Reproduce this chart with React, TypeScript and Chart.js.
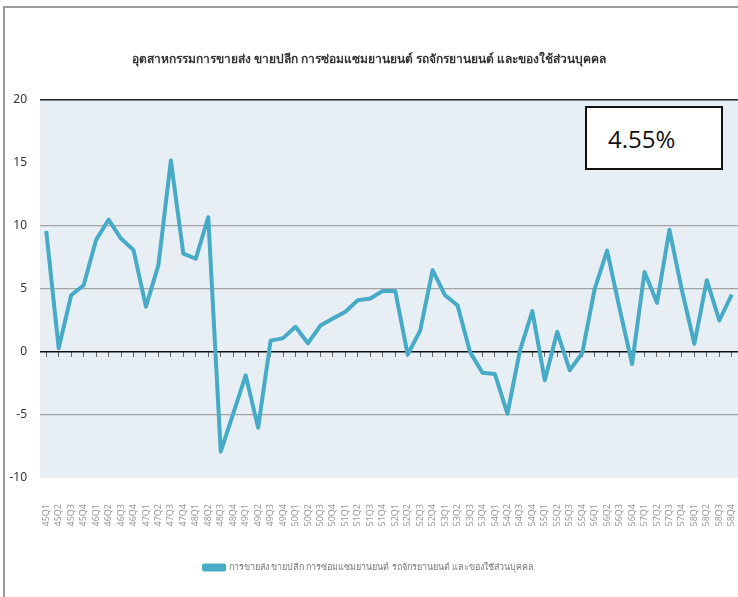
import { useEffect, useRef } from 'react';
import { Chart, registerables } from 'chart.js';

Chart.register(...registerables);

const TITLE = 'อุตสาหกรรมการขายส่ง ขายปลีก การซ่อมแซมยานยนต์ รถจักรยานยนต์ และของใช้ส่วนบุคคล';
const SERIES_NAME = 'การขายส่ง ขายปลีก การซ่อมแซมยานยนต์ รถจักรยานยนต์ และของใช้ส่วนบุคคล';
const LATEST_NOTE = '4.55%';

const quarters = [
  '45Q1', '45Q2', '45Q3', '45Q4', '46Q1', '46Q2', '46Q3', '46Q4',
  '47Q1', '47Q2', '47Q3', '47Q4', '48Q1', '48Q2', '48Q3', '48Q4',
  '49Q1', '49Q2', '49Q3', '49Q4', '50Q1', '50Q2', '50Q3', '50Q4',
  '51Q1', '51Q2', '51Q3', '51Q4', '52Q1', '52Q2', '52Q3', '52Q4',
  '53Q1', '53Q2', '53Q3', '53Q4', '54Q1', '54Q2', '54Q3', '54Q4',
  '55Q1', '55Q2', '55Q3', '55Q4', '56Q1', '56Q2', '56Q3', '56Q4',
  '57Q1', '57Q2', '57Q3', '57Q4', '58Q1', '58Q2', '58Q3', '58Q4',
];

const growth = [
  9.6, 0.3, 4.5, 5.3, 8.9, 10.5, 9.0, 8.1,
  3.6, 6.9, 15.2, 7.8, 7.4, 10.7, -7.9, -4.9,
  -1.85, -6.0, 0.9, 1.1, 2.0, 0.7, 2.1, 2.65,
  3.2, 4.1, 4.25, 4.85, 4.85, -0.2, 1.7, 6.5,
  4.5, 3.7, 0.0, -1.65, -1.75, -4.9, 0.1, 3.25,
  -2.25, 1.6, -1.45, -0.1, 5.0, 8.05, 3.45, -0.95,
  6.35, 3.9, 9.7, 4.9, 0.65, 5.7, 2.5, 4.55,
];

const Y_MIN = -10;
const Y_MAX = 20;
const Y_STEP = 5;

const LINE_COLOR = '#47aac6';
const FONT = "'Liberation Sans Narrow', 'Noto Sans', 'DejaVu Sans Condensed', sans-serif";

const plotBg = {
  id: 'plotBg',
  beforeDraw(chart: any) {
    const { ctx, chartArea: a } = chart;
    ctx.save();
    ctx.fillStyle = '#e8eff4';
    ctx.fillRect(a.left, a.top, a.right - a.left, a.bottom - a.top);
    ctx.restore();
  },
};

export default function App() {
  const ref = useRef<HTMLCanvasElement | null>(null);

  useEffect(() => {
    if (!ref.current) return;
    const chart = new Chart(ref.current, {
      type: 'line',
      data: {
        labels: quarters,
        datasets: [
          {
            label: SERIES_NAME,
            data: growth,
            borderColor: LINE_COLOR,
            backgroundColor: LINE_COLOR,
            borderWidth: 4,
            pointRadius: 0,
            tension: 0,
            borderJoinStyle: 'round',
            xAxisID: 'x',
            yAxisID: 'y',
          },
        ],
      },
      options: {
        responsive: false,
        animation: false,
        layout: { padding: { top: 0, left: 0, right: 0, bottom: 15 } },
        plugins: {
          title: {
            display: true,
            text: TITLE,
            color: '#333',
            font: { size: 12, weight: 'bold', family: FONT },
            padding: { top: 52, bottom: 33.6 },
          },
          legend: {
            position: 'bottom',
            labels: {
              boxWidth: 20,
              boxHeight: 4,
              padding: 8,
              color: '#777',
              font: { size: 9, family: FONT },
            },
          },
          tooltip: { enabled: false },
        },
        scales: {
          x: {
            type: 'category',
            offset: true,
            grid: { display: false, drawTicks: false },
            border: { display: false },
            ticks: {
              autoSkip: false,
              maxRotation: 90,
              minRotation: 90,
              padding: 26,
              color: '#999',
              font: { size: 9, family: FONT },
            },
            afterFit(s: any) {
              s.height = 77;
              s.paddingLeft = 0;
              s.paddingRight = 0;
            },
          },
          x2: {
            type: 'category',
            position: { y: 0 },
            offset: true,
            ticks: { display: false },
            grid: { drawOnChartArea: false, drawTicks: true, tickLength: 5, color: '#666', lineWidth: 1 },
            border: { display: false },
            afterFit(s: any) {
              s.paddingLeft = 0;
              s.paddingRight = 0;
            },
          },
          y: {
            min: Y_MIN,
            max: Y_MAX,
            ticks: {
              stepSize: Y_STEP,
              padding: 13,
              color: '#333',
              font: { size: 12, family: FONT },
            },
            grid: {
              drawTicks: false,
              color: (c: any) => {
                const v = c.tick ? c.tick.value : null;
                if (v === 20) return '#222';
                if (v === 0) return '#111';
                if (v === 10 || v === 5 || v === -5) return '#a3a3a3';
                return 'rgba(0,0,0,0)';
              },
              lineWidth: (c: any) => {
                const v = c.tick ? c.tick.value : null;
                if (v === 20 || v === 0) return 1.5;
                return 1.3;
              },
            },
            border: { display: false },
            afterFit(s: any) {
              s.width = 40;
            },
          },
        },
      },
      plugins: [plotBg],
    } as any);
    return () => chart.destroy();
  }, []);

  return (
    <div style={{ position: 'fixed', left: 0, top: 0, width: 738, height: 597, background: '#fff', overflow: 'hidden' }}>
      <canvas ref={ref} width={738} height={597} style={{ display: 'block' }} />
      <div
        style={{
          position: 'absolute',
          left: 3,
          top: 6,
          right: -10,
          bottom: -10,
          borderTop: '2px solid #9a9a9a',
          borderLeft: '2px solid #9a9a9a',
          pointerEvents: 'none',
        }}
      />
      <div
        style={{
          position: 'absolute',
          left: 585,
          top: 106,
          width: 138,
          height: 64,
          border: '2px solid #111',
          background: '#fff',
          display: 'flex',
          alignItems: 'center',
          paddingLeft: 21,
          boxSizing: 'border-box',
          fontFamily: "'Open Sans', 'Liberation Sans', sans-serif",
          fontSize: 24,
          color: '#111',
        }}
      >
        {LATEST_NOTE}
      </div>
    </div>
  );
}
